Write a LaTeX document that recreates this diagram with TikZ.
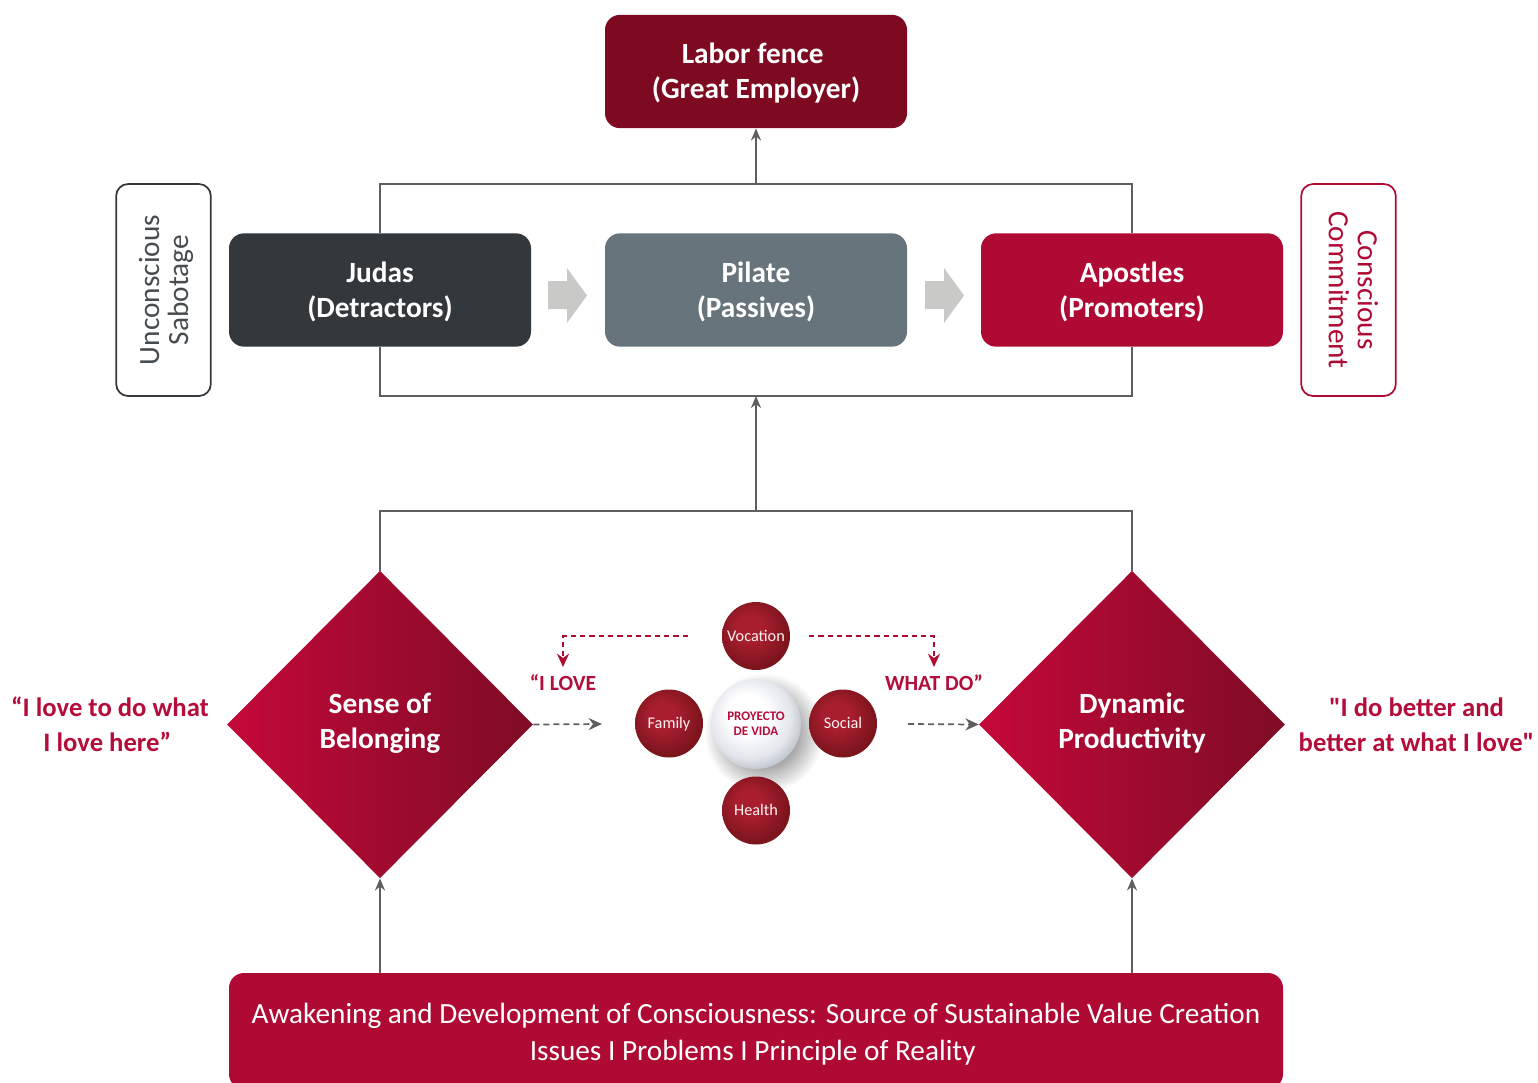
\documentclass[tikz,border=0pt]{standalone}
\usepackage{fontspec}
\setmainfont{Carlito}[Ligatures=TeXOff]
\usetikzlibrary{shapes.geometric,arrows.meta}
\definecolor{crim}{HTML}{AF0A33}
\definecolor{crimtxt}{HTML}{B50D3A}
\definecolor{darkcrim}{HTML}{7E0A22}
\definecolor{slatebox}{HTML}{32383B}
\definecolor{greybox}{HTML}{67747B}
\definecolor{linegrey}{HTML}{5F5F5F}
\definecolor{arrowgrey}{HTML}{C9C9C7}
\definecolor{diaL}{HTML}{C4083A}
\definecolor{diaR}{HTML}{7E0C26}
\definecolor{redA}{HTML}{A81E2F}
\definecolor{redB}{HTML}{7B141B}
\definecolor{redC}{HTML}{8A1722}
\definecolor{whiteB}{HTML}{E2E5EA}
\definecolor{whiteC}{HTML}{ACB2BD}
\definecolor{shadowA}{HTML}{A8A8A8}
\pgfdeclareradialshading{redball}{\pgfpoint{-6bp}{7bp}}{%
 color(0bp)=(redA);
 color(10bp)=(redA);
 color(27bp)=(redB);
 color(32bp)=(redC);
 color(50bp)=(redC)}
\pgfdeclareradialshading{whiteball}{\pgfpoint{-6bp}{7bp}}{%
 color(0bp)=(white);
 color(11bp)=(white);
 color(23bp)=(whiteB);
 color(32bp)=(whiteC);
 color(50bp)=(whiteC)}
\pgfdeclareradialshading{softshadow}{\pgfpoint{0bp}{0bp}}{%
 color(0bp)=(shadowA);
 color(14bp)=(shadowA);
 color(25bp)=(white);
 color(50bp)=(white)}
\newcommand\lowerby[1]{\rule{0pt}{#1}}
\newcommand\raiseby[1]{\rule[-#1]{0pt}{0pt}}
\tikzset{
 x=0.75pt,y=-0.75pt,
 mainbox/.style={rectangle,rounded corners=11.25pt,minimum width=226.5pt,minimum height=85pt,inner sep=0pt,align=center,text=white,font=\fontsize{22}{26.25}\selectfont\bfseries},
 sidebox/.style={draw,rectangle,rounded corners=9pt,line width=1.3pt,fill=white,minimum width=159pt,minimum height=71pt,inner sep=0pt,align=center,font=\fontsize{22}{21.7}\selectfont},
 gem/.style={diamond,aspect=1,minimum width=229.5pt,minimum height=230.5pt,inner sep=0pt,align=center,text=white,left color=diaL,right color=diaR,font=\fontsize{22}{26.25}\selectfont\bfseries},
 quote/.style={text=crimtxt,align=center,inner sep=0pt,font=\fontsize{20}{26.25}\selectfont\bfseries},
 minor/.style={text=crimtxt,inner sep=0pt,font=\fontsize{16.2}{18}\selectfont\bfseries},
 rball/.style={circle,minimum size=51pt,inner sep=0pt,shading=redball,text=white!95!red,text height=10pt,text depth=2.5pt,font=\fontsize{12.2}{13}\selectfont},
 conn/.style={draw=linegrey,line width=1.5pt},
 tip/.style={-{Stealth[length=9pt,width=7.5pt]}},
 dashgrey/.style={draw=linegrey,line width=1.3pt,dash pattern=on 4.5pt off 3pt,-{Stealth[length=10pt,width=9pt]}},
 dashred/.style={draw=crim,line width=1.3pt,dash pattern=on 4pt off 3pt,-{Stealth[length=10pt,width=9pt]}},
 blockarrow/.style={fill=arrowgrey,draw=none}
}
\begin{document}
\begin{tikzpicture}
\clip (0,0) rectangle (1538,1082);
\coordinate (ftl) at (380,183.5);
\coordinate (ftr) at (1132,183.5);
\coordinate (fbl) at (380,396);
\coordinate (fbr) at (1132,396);
\coordinate (ftm) at (756,183.5);
\coordinate (fbm) at (756,396);
\coordinate (lowm) at (756,510.5);
\coordinate (lowl) at (380,510.5);
\coordinate (lowr) at (1132,510.5);

\node[mainbox,fill=darkcrim] (labor) at (756,71.5) {\lowerby{18pt}Labor fence\hspace*{5pt}\\(Great Employer)};
\node[mainbox,fill=slatebox] (judas) at (380,290) {\lowerby{18pt}Judas\\(Detractors)};
\node[mainbox,fill=greybox] (pilate) at (756,290) {\lowerby{18pt}Pilate\\(Passives)};
\node[mainbox,fill=crim] (apostles) at (1132,290) {\lowerby{18pt}Apostles\\(Promoters)};
\node[sidebox,rotate=90,draw=slatebox,text=slatebox!90!white] (sab) at (163.5,290) {\lowerby{19pt}Unconscious\\Sabotage};
\node[sidebox,rotate=-90,draw=crim,text=crim] (com) at (1348.5,290) {Conscious\\Commitment\raiseby{7.5pt}};

\node[gem] (belong) at (380,724.5) {Sense of\\Belonging\raiseby{6pt}};
\node[gem] (dyn) at (1132,724.5) {Dynamic\\Productivity\raiseby{6pt}};

\node[mainbox,fill=crim,minimum width=790.5pt,minimum height=87pt,font=\fontsize{21.95}{27.75}\selectfont] (awake) at (756,1031) {\lowerby{20pt}Awakening and Development of Consciousness: Source of Sustainable Value Creation\\Issues I Problems I Principle of Reality\hspace*{5pt}};

\draw[conn] (judas.north) -- (ftl) -- (ftr) -- (apostles.north);
\draw[conn] (judas.south) -- (fbl) -- (fbr) -- (apostles.south);
\draw[conn] (belong.north) -- (lowl) -- (lowr) -- (dyn.north);
\draw[conn,tip] (ftm) -- (labor.south);
\draw[conn,tip] (lowm) -- (fbm);
\draw[conn,tip] (awake.north -| belong.south) -- (belong.south);
\draw[conn,tip] (awake.north -| dyn.south) -- (dyn.south);

\fill[blockarrow] (548,281) -- (567,281) -- (567,268) -- (587,295.5) -- (567,323) -- (567,309) -- (548,309) -- cycle;
\fill[blockarrow] (925,281) -- (944,281) -- (944,268) -- (964,295.5) -- (944,323) -- (944,309) -- (925,309) -- cycle;

\node[quote] (q1) at (110,724.5) {“I love to do what\\I love here”\hspace*{4pt}};
\node[quote] (q2) at (1416.5,724.5) {"I do better and\\better at what I love"};

\shade[shading=softshadow] (764,733) circle (60);
\node[circle,minimum size=67.5pt,inner sep=0pt,shading=whiteball,text=crimtxt,align=center,font=\fontsize{9.8}{11.5}\selectfont\bfseries] (pv) at (756,724) {PROYECTO\\DE VIDA};
\node[rball] (voc) at (756,636) {Vocation};
\node[rball] (fam) at (669,723.5) {Family};
\node[rball] (soc) at (843,723.5) {Social};
\node[rball] (hea) at (756,810.5) {Health};

\node[minor] (ilove) at (563,683) {“I LOVE};
\node[minor] (whatdo) at (934,683) {WHAT DO”};

\coordinate (vl) at (688,636);
\coordinate (vr) at (809,636);
\coordinate (il) at (563,667);
\coordinate (ir) at (934,667);
\draw[dashred] (vl) -| (il);
\draw[dashred] (vr) -| (ir);
\coordinate (gl) at (602,724);
\coordinate (gr) at (908,724);
\draw[dashgrey] (belong.east) -- (gl);
\draw[dashgrey] (gr) -- (dyn.west);
\end{tikzpicture}
\end{document}
